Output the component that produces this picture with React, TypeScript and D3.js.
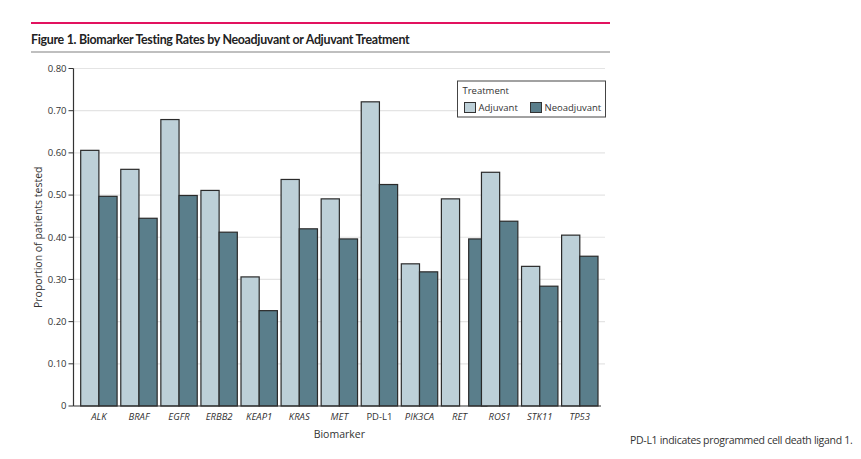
import { useRef, useEffect } from "react";
import * as d3 from "d3";

const FONT = "'Open Sans', 'Noto Sans', sans-serif";
const TITLE_FONT = "Lato, 'Open Sans', sans-serif";
const WIDTH = 861;
const HEIGHT = 459;

const biomarkers = ["ALK", "BRAF", "EGFR", "ERBB2", "KEAP1", "KRAS", "MET", "PD-L1", "PIK3CA", "RET", "ROS1", "STK11", "TP53"];
const italicLabel = [true, true, true, true, true, true, true, false, true, true, true, true, true];
const adjuvant = [0.606, 0.561, 0.679, 0.511, 0.306, 0.537, 0.491, 0.721, 0.337, 0.491, 0.554, 0.331, 0.405];
const neoadjuvant = [0.497, 0.445, 0.499, 0.412, 0.226, 0.42, 0.396, 0.525, 0.318, 0.396, 0.438, 0.284, 0.355];
// the source figure draws the RET neoadjuvant bar shifted right (partly under ROS1)
const neoShift = [0, 0, 0, 0, 0, 0, 0, 0, 0, 0.25, 0, 0, 0];
const yTicks = [0, 0.1, 0.2, 0.3, 0.4, 0.5, 0.6, 0.7, 0.8];
const series = ["Adjuvant", "Neoadjuvant"];
const COLORS = ["#bdd0d8", "#5a7e8b"];

const PLOT = { left: 73.5, right: 605, top: 68.5, bottom: 406 };

export default function App() {
  const svgRef = useRef<SVGSVGElement>(null);

  useEffect(() => {
    const svg = svgRef.current;
    if (!svg) return;
    const root = d3.select(svg);
    root.selectAll("*").remove();

    const x = d3.scaleBand<string>().domain(biomarkers).range([80.7, 598]).paddingInner(0.092).paddingOuter(0);
    const sub = d3.scaleBand<string>().domain(series).range([0, x.bandwidth()]);
    const y = d3.scaleLinear().domain([0, 0.8]).range([PLOT.bottom, PLOT.top]);

    // header rules and title
    root.append("line").attr("x1", 31).attr("x2", 610).attr("y1", 23).attr("y2", 23)
      .attr("stroke", "#e2125f").attr("stroke-width", 2.2);
    root.append("text").attr("x", 31).attr("y", 44).attr("fill", "#222")
      .attr("font-family", TITLE_FONT).attr("font-size", 12.4).attr("font-weight", 700)
      .attr("letter-spacing", -0.3)
      .text("Figure 1. Biomarker Testing Rates by Neoadjuvant or Adjuvant Treatment");
    root.append("line").attr("x1", 31).attr("x2", 610).attr("y1", 52).attr("y2", 52)
      .attr("stroke", "#808080").attr("stroke-width", 1.2);

    // grid + y ticks
    for (const t of yTicks) {
      if (t > 0) {
        root.append("line").attr("x1", PLOT.left).attr("x2", PLOT.right)
          .attr("y1", y(t)).attr("y2", y(t)).attr("stroke", "#e4e4e4").attr("stroke-width", 1.2);
      }
      root.append("line").attr("x1", PLOT.left - 5).attr("x2", PLOT.left)
        .attr("y1", y(t)).attr("y2", y(t)).attr("stroke", "#333").attr("stroke-width", 1);
      root.append("text").attr("x", PLOT.left - 7).attr("y", y(t)).attr("dy", "0.35em")
        .attr("text-anchor", "end").attr("fill", "#333").attr("font-family", FONT).attr("font-size", 9.5)
        .text(t === 0 ? "0" : t.toFixed(2));
    }

    // bars
    biomarkers.forEach((b, i) => {
      const vals = [adjuvant[i], neoadjuvant[i]];
      series.forEach((s, si) => {
        const shift = si === 1 ? neoShift[i] * x.bandwidth() : 0;
        root.append("rect")
          .attr("x", x(b)! + sub(s)! + shift)
          .attr("y", y(vals[si]))
          .attr("width", sub.bandwidth())
          .attr("height", y(0) - y(vals[si]))
          .attr("fill", COLORS[si])
          .attr("stroke", "#2a2a2a")
          .attr("stroke-width", 1.2);
      });
      root.append("text").attr("x", x(b)! + x.bandwidth() / 2).attr("y", 420)
        .attr("text-anchor", "middle").attr("fill", "#333").attr("font-family", FONT)
        .attr("font-size", 9.5).attr("font-style", italicLabel[i] ? "italic" : "normal")
        .text(b);
    });

    // axes lines
    root.append("line").attr("x1", PLOT.left).attr("x2", PLOT.left).attr("y1", PLOT.top).attr("y2", PLOT.bottom)
      .attr("stroke", "#333").attr("stroke-width", 1.2);
    root.append("line").attr("x1", PLOT.left).attr("x2", 601).attr("y1", PLOT.bottom).attr("y2", PLOT.bottom)
      .attr("stroke", "#333").attr("stroke-width", 1.2);

    // axis titles
    root.append("text").attr("x", (x.range()[0] + x.range()[1]) / 2).attr("y", 438)
      .attr("text-anchor", "middle").attr("fill", "#333").attr("font-family", FONT).attr("font-size", 10.5)
      .text("Biomarker");
    root.append("text").attr("transform", `translate(42,${(PLOT.top + PLOT.bottom) / 2}) rotate(-90)`)
      .attr("text-anchor", "middle").attr("fill", "#333").attr("font-family", FONT).attr("font-size", 10.5)
      .text("Proportion of patients tested");

    // legend
    const lg = root.append("g").attr("transform", "translate(457.5,81)");
    lg.append("rect").attr("width", 148).attr("height", 36).attr("fill", "#fff")
      .attr("stroke", "#444").attr("stroke-width", 1);
    lg.append("text").attr("x", 5).attr("y", 13).attr("fill", "#333").attr("font-family", FONT)
      .attr("font-size", 9.5).text("Treatment");
    const lx = [7, 73];
    series.forEach((s, si) => {
      lg.append("rect").attr("x", lx[si]).attr("y", 21.5).attr("width", 11).attr("height", 10)
        .attr("fill", COLORS[si]).attr("stroke", "#333").attr("stroke-width", 1);
      lg.append("text").attr("x", lx[si] + 14).attr("y", 30).attr("fill", "#333").attr("font-family", FONT)
        .attr("font-size", 9.5).text(s);
    });

    // footnote
    root.append("text").attr("x", 630).attr("y", 444).attr("fill", "#333").attr("font-family", FONT)
      .attr("font-size", 10.5).attr("letter-spacing", -0.3)
      .text("PD-L1 indicates programmed cell death ligand 1.");
  }, []);

  return (
    <svg ref={svgRef} width={WIDTH} height={HEIGHT}
      style={{ position: "absolute", left: 0, top: 0, background: "#fff" }} />
  );
}
